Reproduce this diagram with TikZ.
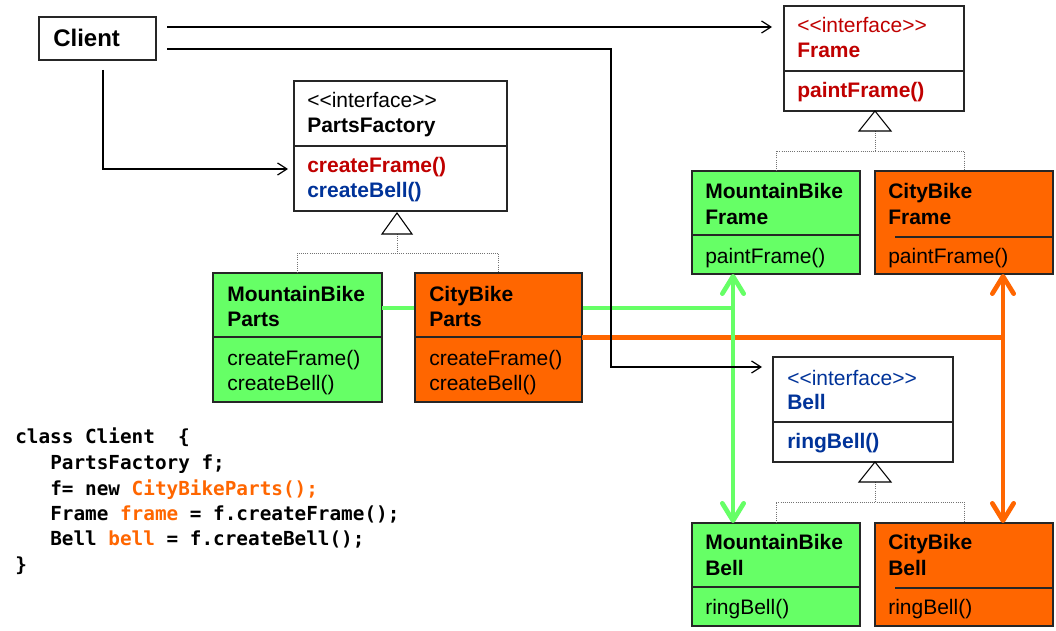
\documentclass[tikz,border=0pt]{standalone}
\usepackage{fontspec}
\setmainfont{Liberation Sans}
\newfontfamily\codefont{DejaVu Sans Mono}
\usetikzlibrary{arrows.meta}
\definecolor{mbgreen}{RGB}{102,255,102}
\definecolor{cborange}{RGB}{255,102,0}
\definecolor{ifred}{RGB}{192,0,0}
\definecolor{ifblue}{RGB}{0,51,153}
\newcommand\UMLbox[6]{\node[classbox, fill=#6, minimum width={(#4-#2)*0.75pt}, minimum height={(#5-#3)*0.75pt}] (#1) at (#2,#3) {};}
\newcommand\UMLdiv[3][0]{\draw[divider] ([xshift=#1*0.75pt, yshift=-#3*0.75pt]#2.north west) -- ([yshift=-#3*0.75pt]#2.north east);}
\begin{document}
\begin{tikzpicture}[x=0.75pt,y=-0.75pt,
  classbox/.style={draw=black!85, line width=0.9pt, anchor=north west, inner sep=0pt, outer sep=0pt},
  divider/.style={draw=black!85, line width=0.9pt},
  lbl/.style={anchor=base west, inner sep=0pt, font=\fontsize{15.75}{18}\selectfont},
  bl/.style={lbl, font=\fontsize{15.75}{18}\selectfont\bfseries},
  codeline/.style={anchor=base west, inner sep=0pt, font=\fontsize{14.5}{17}\selectfont\codefont\bfseries},
  assoc/.style={draw=black, line width=0.9pt, -{Straight Barb[length=7pt,width=9pt]}},
  inh/.style={draw=black!55, line width=0.6pt, densely dotted},
  tri/.style={draw=black, line width=0.8pt, fill=white},
  gline/.style={draw=mbgreen, line width=3.5pt},
  oline/.style={draw=cborange, line width=3.5pt},
  dbl/.style={{Straight Barb[length=13pt,width=16pt,round]}-{Straight Barb[length=13pt,width=16pt,round]}}
]
\useasboundingbox (0,0) rectangle (1056,631);
\fill[white] (0,0) rectangle (1056,631);

% coordinates for connector columns
\coordinate (gx) at (733,0);
\coordinate (ox) at (1003,0);
\coordinate (j2) at (611,367);

% boxes
\UMLbox{client}{39}{17}{156}{60}{white}
\UMLbox{pf}{294}{81}{507}{211}{white}
\UMLbox{mbp}{213}{273}{382}{402}{mbgreen}
\draw[gline] ([yshift=22.125pt]mbp.east) coordinate (g0) -- (g0 -| gx);
\UMLbox{cbp}{415}{273}{582}{402}{cborange}
\UMLbox{frame}{784}{6}{964}{111}{white}
\UMLbox{mbf}{692}{171}{860}{274}{mbgreen}
\UMLbox{cbf}{875}{171}{1053}{274}{cborange}
\UMLbox{bell}{773}{357}{953}{462}{white}
\UMLbox{mbb}{692}{523}{860}{626}{mbgreen}
\UMLbox{cbb}{875}{523}{1053}{626}{cborange}

% dividers
\UMLdiv{pf}{65}
\UMLdiv{mbp}{64}
\UMLdiv{cbp}{64}
\UMLdiv{frame}{65}
\UMLdiv{mbf}{64}
\UMLdiv[20]{cbf}{66}
\UMLdiv{bell}{65}
\UMLdiv{mbb}{64}
\UMLdiv[20]{cbb}{65}

% inheritance
\coordinate (t1) at (397,234);
\coordinate (t2) at (875,131);
\coordinate (t3) at (875,482);
\draw[inh] (t1) -- ++(0,19);
\draw[inh] (mbp.north) -- ++(0,-20) -| (cbp.north);
\draw[tri] (397,213) -- (412,234) -- (382,234) -- cycle;
\draw[inh] (t2) -- ++(0,20);
\draw[inh] (mbf.north) -- ++(0,-20) -| (cbf.north);
\draw[tri] (875,111) -- (891,131) -- (859,131) -- cycle;
\draw[inh] (t3) -- ++(0,20);
\draw[inh] (mbb.north) -- ++(0,-21) -| (cbb.north);
\draw[tri] (875,462) -- (891,482) -- (859,482) -- cycle;

% colored links
\draw[oline] (cbp.east) -- (cbp.east -| ox);
\draw[oline, dbl] (cbf.south -| ox) -- (cbb.north -| ox);
\draw[gline, dbl] (mbf.south -| gx) -- (mbb.north -| gx);

% client associations
\draw[assoc, shorten >=9pt] ([shift={(11,-11.5)}]client.east) coordinate (c1) -- (c1 -| frame.west);
\draw[assoc, shorten >=8.25pt] ([shift={(11,10.5)}]client.east) -| (j2) -- (j2 -| bell.west);
\draw[assoc, shorten >=4.5pt] ([shift={(5.5,10)}]client.south) |- ([shift={(0,23)}]pf.west);

% texts
\node[lbl, font=\fontsize{18}{20}\selectfont\bfseries] (tclient) at (53,47) {Client};

\node[lbl] (pf1) at (307,108) {<{}<interface>{}>};
\node[bl] (pf2) at (307,133) {PartsFactory};
\node[bl, text=ifred] (pf3) at (307,173) {createFrame()};
\node[bl, text=ifblue] (pf4) at (307,198) {createBell()};

\node[bl] (mbp1) at (227,301) {MountainBike};
\node[bl] (mbp2) at (227,326) {Parts};
\node[lbl] (mbp3) at (227,365) {createFrame()};
\node[lbl] (mbp4) at (227,390) {createBell()};

\node[bl] (cbp1) at (429,301) {CityBike};
\node[bl] (cbp2) at (429,326) {Parts};
\node[lbl] (cbp3) at (429,365) {createFrame()};
\node[lbl] (cbp4) at (429,390) {createBell()};

\node[lbl, text=ifred] (fr1) at (797,33) {<{}<interface>{}>};
\node[bl, text=ifred] (fr2) at (797,58) {Frame};
\node[bl, text=ifred] (fr3) at (797,98) {paintFrame()};

\node[bl] (mbf1) at (705,199) {MountainBike};
\node[bl] (mbf2) at (705,224) {Frame};
\node[lbl] (mbf3) at (705,263) {paintFrame()};

\node[bl] (cbf1) at (888,199) {CityBike};
\node[bl] (cbf2) at (888,224) {Frame};
\node[lbl] (cbf3) at (888,263) {paintFrame()};

\node[lbl, text=ifblue] (be1) at (787,385) {<{}<interface>{}>};
\node[bl, text=ifblue] (be2) at (787,409) {Bell};
\node[bl, text=ifblue] (be3) at (787,448) {ringBell()};

\node[bl] (mbb1) at (705,549) {MountainBike};
\node[bl] (mbb2) at (705,575) {Bell};
\node[lbl] (mbb3) at (705,614) {ringBell()};

\node[bl] (cbb1) at (888,549) {CityBike};
\node[bl] (cbb2) at (888,575) {Bell};
\node[lbl] (cbb3) at (888,614) {ringBell()};

% code
\node[codeline] (code1) at (15,443) {class~Client~~\{};
\node[codeline] (code2) at (50,469) {PartsFactory~f;};
\node[codeline] (code3) at (50,495) {f=~new~\textcolor{cborange}{CityBikeParts();}};
\node[codeline] (code4) at (50,520) {Frame~\textcolor{cborange}{frame}~=~f.createFrame();};
\node[codeline] (code5) at (50,545) {Bell~\textcolor{cborange}{bell}~=~f.createBell();};
\node[codeline] (code6) at (15,571) {\}};
\end{tikzpicture}
\end{document}
